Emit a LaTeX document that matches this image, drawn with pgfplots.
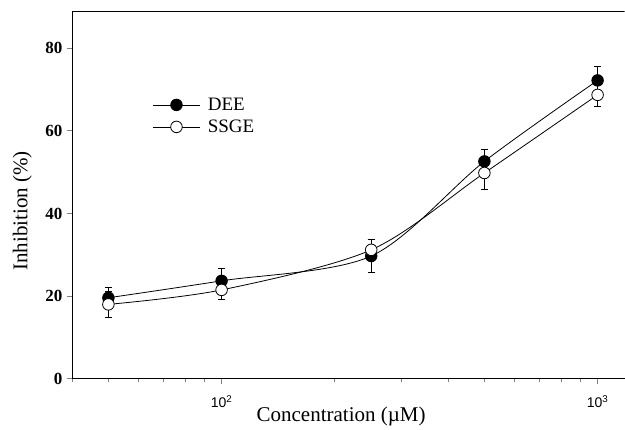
\documentclass[border=0pt]{standalone}
\usepackage{pgfplots}
\pgfplotsset{compat=1.18}
\usepackage{fontspec}
\setmainfont{Liberation Serif}
\setsansfont{Liberation Sans}
\begin{document}
\begin{tikzpicture}
\begin{axis}[
  scale only axis, width=553pt, height=368pt,
  xmode=log, xmin=40, xmax=1180, ymin=0, ymax=89,
  axis lines*=left,
  axis line style={line width=0.8pt},
  tick align=outside, xtick pos=bottom, ytick pos=left,
  x tick style={line width=0.7pt}, y tick style={line width=0.7pt},
  xtick={100,1000}, xticklabels={{\sffamily 10\textsuperscript{2}},{\sffamily 10\textsuperscript{3}}},
  minor xtick={40,50,60,70,80,90,200,300,400,500,600,700,800,900},
  ytick={0,20,40,60,80},
  major tick length=5pt, minor tick length=3.5pt,
  yticklabel style={font=\fontsize{17}{19}\selectfont\bfseries, xshift=-1pt},
  xticklabel style={font=\fontsize{14}{16}\selectfont, yshift=-8pt},
  /pgf/number format/assume math mode=true,
  xlabel={Concentration (\textmu M)}, ylabel={Inhibition (\%)},
  xlabel style={font=\fontsize{21}{24}\selectfont, at={(axis description cs:0.487,-0.103)}, anchor=center},
  ylabel style={font=\fontsize{21}{24}\selectfont, at={(axis description cs:-0.09,0.4565)}, anchor=center},
  every axis plot/.append style={line width=0.8pt},
  legend style={draw=none, fill=none, at={(axis description cs:0.141,0.775)}, anchor=north west, font=\fontsize{19}{21}\selectfont, row sep=4pt, nodes={inner sep=2pt}},
  legend cell align=left,
  legend image code/.code={\draw[mark repeat=2,mark phase=2] plot coordinates {(0pt,0pt) (23pt,0pt) (46pt,0pt)};},
]
\draw[line width=0.8pt] (rel axis cs:0,1) -- (rel axis cs:1,1);
\addplot[black, smooth, mark=*, mark size=5.8pt, mark options={fill=black, solid},
  error bars/.cd, y dir=both, y explicit, error mark options={rotate=90, mark size=3.5pt, line width=0.8pt}, error bar style={line width=0.8pt}]
  table[x=x, y=y, y error=e] {
x y e
50 19.6 2.6
100 23.7 3.1
250 29.7 4.0
500 52.6 2.8
1000 72.2 3.5
};
\addlegendentry{\hspace{6pt}DEE}
\addplot[black, smooth, mark=*, mark size=5.8pt, mark options={fill=white, solid},
  error bars/.cd, y dir=both, y explicit, error mark options={rotate=90, mark size=3.5pt, line width=0.8pt}, error bar style={line width=0.8pt}]
  table[x=x, y=y, y error=e] {
x y e
50 18.0 3.2
100 21.5 2.4
250 31.2 2.6
500 49.8 4.0
1000 68.7 2.8
};
\addlegendentry{\hspace{6pt}SSGE}
\end{axis}
\path ([shift={(-72pt,-50pt)}]current axis.south west) rectangle ([shift={(0pt,11pt)}]current axis.north east);
\end{tikzpicture}
\end{document}
